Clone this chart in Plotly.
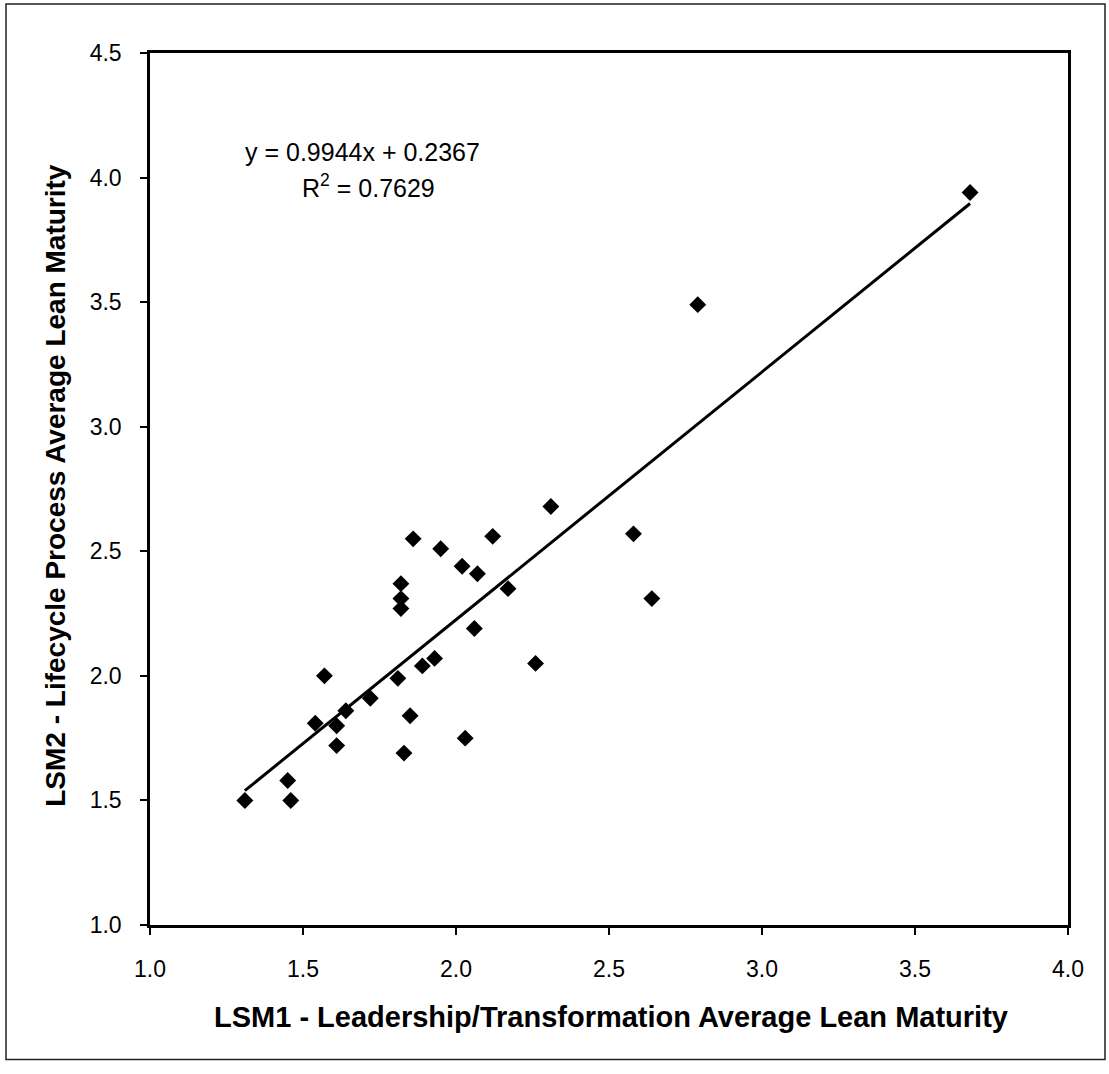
import plotly.graph_objects as go

# Data
lsm1 = [1.31, 1.46, 1.45, 1.57, 1.54, 1.61, 1.61, 1.64, 1.72, 1.81,
        1.82, 1.82, 1.82, 1.83, 1.85, 1.86, 1.89, 1.93, 1.95, 2.02,
        2.03, 2.06, 2.07, 2.12, 2.17, 2.26, 2.31, 2.58, 2.64, 2.79, 3.68]
lsm2 = [1.50, 1.50, 1.58, 2.00, 1.81, 1.72, 1.80, 1.86, 1.91, 1.99,
        2.37, 2.31, 2.27, 1.69, 1.84, 2.55, 2.04, 2.07, 2.51, 2.44,
        1.75, 2.19, 2.41, 2.56, 2.35, 2.05, 2.68, 2.57, 2.31, 3.49, 3.94]
slope = 0.9944
intercept = 0.2367
r_squared = 0.7629
x_ticks = [1.0, 1.5, 2.0, 2.5, 3.0, 3.5, 4.0]
y_ticks = [1.0, 1.5, 2.0, 2.5, 3.0, 3.5, 4.0, 4.5]

W, H = 1109, 1074
L, R, T, B = 150, 1068, 53, 925.5

def px(xp):
    return (xp - L) / (R - L)

def py(yp):
    return (B - yp) / (B - T)

trend_x = [min(lsm1), max(lsm1)]
trend_y = [slope * v + intercept for v in trend_x]

FONT = "Liberation Sans, Arial"

fig = go.Figure()
fig.add_trace(go.Scatter(x=trend_x, y=trend_y, mode="lines",
                         line=dict(color="black", width=3), showlegend=False,
                         hoverinfo="skip"))
fig.add_trace(go.Scatter(x=lsm1, y=lsm2, mode="markers",
                         marker=dict(symbol="diamond", size=13, color="black",
                                     line=dict(width=0)),
                         showlegend=False))

axis_common = dict(showgrid=False, zeroline=False, showline=True, mirror=True,
                   linecolor="black", linewidth=2.5, ticks="outside",
                   ticklen=7, tickwidth=1.5, tickcolor="black",
                   tickfont=dict(family=FONT, size=23, color="black"),
                   tickformat=".1f")

fig.update_layout(
    width=W, height=H,
    margin=dict(l=L, r=W - R, t=T, b=H - B, pad=0),
    paper_bgcolor="white", plot_bgcolor="white",
    xaxis=dict(range=[1.0, 4.0], tickvals=x_ticks, ticklabelstandoff=15, **axis_common),
    yaxis=dict(range=[1.0, 4.5], tickvals=y_ticks, ticklabelstandoff=14, **axis_common),
    shapes=[dict(type="rect", xref="paper", yref="paper",
                 x0=px(6), x1=px(1105), y0=py(1060), y1=py(4),
                 line=dict(color="#222", width=1.5), layer="below")],
    annotations=[
        dict(text=f"y = {slope}x + {intercept}", xref="paper", yref="paper",
             x=px(243), y=py(152), xanchor="left", yanchor="middle", showarrow=False,
             font=dict(family=FONT, size=25, color="black")),
        dict(text=f"R<sup>2</sup> = {r_squared}", xref="paper", yref="paper",
             x=px(300), y=py(186), xanchor="left", yanchor="middle", showarrow=False,
             font=dict(family=FONT, size=25, color="black")),
        dict(text="<b>LSM1 - Leadership/Transformation Average Lean Maturity</b>",
             xref="paper", yref="paper", x=px(611), y=py(1018),
             xanchor="center", yanchor="middle", showarrow=False,
             font=dict(family=FONT, size=29, color="black")),
        dict(text="<b>LSM2 - Lifecycle Process Average Lean Maturity</b>",
             xref="paper", yref="paper", x=px(56), y=py(486), textangle=-90,
             xanchor="center", yanchor="middle", showarrow=False,
             font=dict(family=FONT, size=28, color="black")),
    ],
)

fig.write_html("out.html")
